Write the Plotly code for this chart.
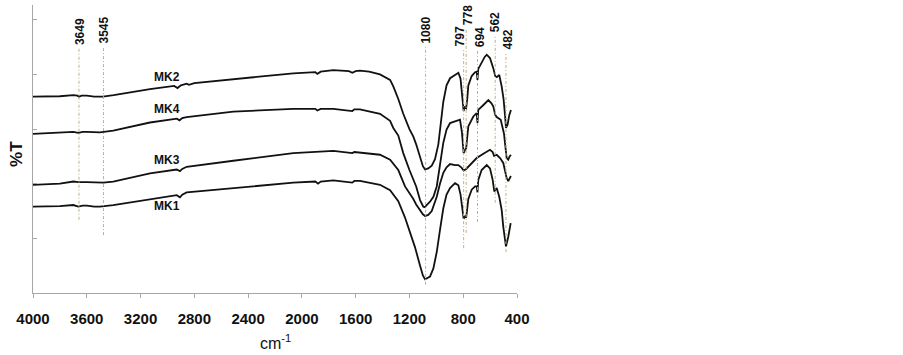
import plotly.graph_objects as go

# ---- data (wavenumber cm-1, relative %T in arbitrary units) ----
mk2_w = [4000, 3800, 3700, 3670, 3658, 3640, 3600, 3545, 3480, 3400, 3130, 2950, 2925, 2900, 2857, 2840, 2800,
         2510, 2064, 1900, 1885, 1860, 1766, 1650, 1625, 1600, 1568, 1500, 1419, 1344, 1320, 1283, 1246,
         1200, 1171, 1150, 1121, 1100, 1084, 1060, 1034, 1010, 985, 973, 948, 924, 898, 861, 836, 820, 808,
         797, 790, 778, 770, 762, 737, 712, 700, 694, 688, 663, 640, 625, 601, 576, 562, 550, 532, 514, 500,
         489, 482, 470, 458, 445]
mk2_v = [3.595, 3.60, 3.62, 3.61, 3.59, 3.61, 3.61, 3.595, 3.595, 3.62, 3.73, 3.79, 3.75, 3.80, 3.83, 3.81, 3.84,
         3.91, 4.02, 4.04, 4.01, 4.05, 4.08, 4.06, 4.03, 4.06, 4.07, 4.05, 4.00, 3.90, 3.78, 3.55, 3.28,
         3.00, 2.86, 2.72, 2.48, 2.32, 2.26, 2.28, 2.33, 2.45, 2.72, 3.00, 3.50, 3.80, 3.93, 3.99, 4.03, 3.92, 3.62,
         3.33, 3.40, 3.38, 3.55, 3.80, 3.97, 4.04, 4.05, 3.90, 4.10, 4.22, 4.32, 4.36, 4.30, 4.11, 3.97, 3.95, 3.99, 3.78, 3.55,
         3.25, 3.02, 3.08, 3.25, 3.35]

mk4_w = [4000, 3800, 3700, 3663, 3630, 3600, 3545, 3502, 3403, 3130, 2930, 2910, 2890, 2857, 2510, 2064, 1900,
         1885, 1860, 1766, 1625, 1610, 1568, 1419, 1344, 1320, 1283, 1246, 1200, 1171, 1150, 1121, 1097, 1084,
         1072, 1047, 1022, 997, 973, 948, 924, 898, 861, 824, 810, 797, 786, 778, 770, 762, 725, 700, 694, 688,
         650, 613, 590, 576, 562, 551, 521, 497, 477, 465, 455, 445]
mk4_v = [2.91, 2.93, 2.95, 2.93, 2.95, 2.95, 2.94, 2.94, 2.97, 3.12, 3.19, 3.16, 3.20, 3.22, 3.32, 3.37, 3.37,
         3.34, 3.37, 3.37, 3.33, 3.36, 3.36, 3.28, 3.15, 3.02, 2.88, 2.56, 2.25, 2.07, 1.95, 1.70, 1.58, 1.57,
         1.61, 1.67, 1.76, 1.95, 2.31, 2.75, 2.99, 3.11, 3.14, 3.17, 2.95, 2.56, 2.62, 2.65, 2.85, 3.05, 3.23, 3.29, 3.11, 3.35,
         3.44, 3.53, 3.47, 3.41, 3.26, 3.22, 3.17, 2.92, 2.47, 2.44, 2.50, 2.53]

mk3_w = [4000, 3800, 3700, 3663, 3600, 3545, 3477, 3403, 3130, 2931, 2907, 2890, 2857, 2510, 2064, 1766, 1625,
         1610, 1568, 1419, 1344, 1283, 1233, 1190, 1171, 1150, 1121, 1100, 1084, 1060, 1034, 997, 973, 948,
         924, 898, 861, 836, 815, 797, 778, 749, 700, 650, 625, 601, 581, 571, 551, 526, 502, 489, 477, 465, 452, 445]
mk3_v = [1.98, 2.00, 2.04, 2.03, 2.03, 2.02, 2.02, 2.04, 2.19, 2.26, 2.23, 2.27, 2.31, 2.42, 2.56, 2.60, 2.56,
         2.58, 2.57, 2.53, 2.44, 2.25, 1.95, 1.80, 1.72, 1.62, 1.52, 1.44, 1.41, 1.43, 1.50, 1.76, 2.00, 2.20,
         2.30, 2.36, 2.34, 2.34, 2.30, 2.24, 2.27, 2.34, 2.47, 2.55, 2.58, 2.62, 2.58, 2.51, 2.53, 2.47, 2.38, 2.25, 2.10, 2.05, 2.10, 2.14]

mk1_w = [4000, 3800, 3700, 3663, 3630, 3600, 3545, 3502, 3403, 3130, 2931, 2907, 2890, 2857, 2510, 2064, 1900,
         1880, 1860, 1766, 1625, 1610, 1568, 1419, 1344, 1283, 1233, 1196, 1171, 1159, 1121, 1100, 1084, 1060,
         1047, 1022, 997, 973, 948, 924, 898, 861, 836, 820, 808, 797, 786, 778, 770, 762, 737, 712, 700, 694,
         688, 663, 625, 601, 581, 569, 562, 551, 532, 514, 502, 482, 465, 447]
mk1_v = [1.58, 1.59, 1.61, 1.58, 1.60, 1.60, 1.58, 1.58, 1.61, 1.72, 1.79, 1.75, 1.80, 1.84, 1.92, 2.02, 2.04,
         2.00, 2.04, 2.06, 2.02, 2.05, 2.05, 1.98, 1.88, 1.68, 1.38, 1.10, 0.90, 0.84, 0.50, 0.32, 0.25, 0.28,
         0.30, 0.45, 0.75, 1.15, 1.55, 1.80, 1.92, 2.01, 1.97, 1.80, 1.55, 1.36, 1.40, 1.38, 1.55, 1.72, 1.89, 1.95, 1.95, 1.84,
         2.07, 2.25, 2.34, 2.28, 2.07, 1.86, 1.88, 1.92, 1.76, 1.52, 1.21, 0.85, 1.03, 1.28]

series_names = ["MK2", "MK4", "MK3", "MK1"]
label_w = [3003, 3003, 3003, 3003]
label_v = [3.96, 3.37, 2.44, 1.59]

# peak labels and where their guide lines are drawn in the picture
peak_labels = ["3649", "3545", "1080", "797", "778", "694", "562", "482"]
peak_pos = [3658, 3476, 1080, 797, 778, 694, 562, 482]
peak_top = [4.49, 4.51, 4.51, 4.45, 4.85, 4.45, 4.72, 4.40]
peak_bottom = [1.34, 1.06, 0.15, 0.82, 1.10, 1.30, 1.65, 0.75]
peak_xshift = [1, 1, 0, -4, 2, 2, 0, 2]

x_ticks = [4000, 3600, 3200, 2800, 2400, 2000, 1600, 1200, 800, 400]

fig = go.Figure()
for w, v in [(mk2_w, mk2_v), (mk4_w, mk4_v), (mk3_w, mk3_v), (mk1_w, mk1_v)]:
    fig.add_trace(go.Scatter(x=w, y=v, mode="lines", line=dict(color="#111111", width=1.8),
                             showlegend=False, hoverinfo="skip"))

guide_color = "#BFB083"
for lab, pw, top, bot, xs in zip(peak_labels, peak_pos, peak_top, peak_bottom, peak_xshift):
    fig.add_trace(go.Scatter(x=[pw, pw], y=[bot, top], mode="lines",
                             line=dict(color=guide_color, width=1, dash="3px,2px,1px,2px"),
                             showlegend=False, hoverinfo="skip"))
    fig.add_annotation(x=pw, y=top, text=lab, textangle=-90, showarrow=False,
                       xanchor="center", yanchor="bottom", xshift=xs, yshift=1,
                       font=dict(family="Liberation Sans", size=12, color="#111111", weight="bold"))

for n, lw, lv in zip(series_names, label_w, label_v):
    fig.add_annotation(x=lw, y=lv, text=n, showarrow=False, xanchor="center", yanchor="middle",
                       font=dict(family="Liberation Sans", size=12, color="#111111", weight="bold"))

fig.add_annotation(xref="paper", yref="paper", x=-0.033, y=0.483, text="%T", textangle=-90,
                   showarrow=False, xanchor="center", yanchor="middle",
                   font=dict(family="Liberation Sans", size=17, color="#111111", weight="bold"))
fig.add_annotation(xref="paper", yref="paper", x=0.502, y=-0.170, text="cm<sup>-1</sup>",
                   showarrow=False, xanchor="center", yanchor="middle",
                   font=dict(family="Liberation Sans", size=16, color="#111111"))

fig.update_layout(
    width=903, height=355, margin=dict(l=33, r=386, t=5, b=62),
    paper_bgcolor="white", plot_bgcolor="white",
    xaxis=dict(range=[4000, 400], tickvals=x_ticks, ticktext=[str(t) for t in x_ticks],
               showgrid=False, zeroline=False, showline=True, linecolor="#A6A6A6", linewidth=1,
               ticks="outside", ticklen=4, tickcolor="#A6A6A6", ticklabelstandoff=8,
               tickfont=dict(family="Liberation Sans", size=15, color="#111111", weight="bold")),
    yaxis=dict(range=[0, 5.27], dtick=1, tick0=0, showticklabels=False, showgrid=False, zeroline=False,
               showline=True, linecolor="#A6A6A6", linewidth=1, ticks="inside", ticklen=4,
               tickcolor="#A6A6A6"),
)

fig.write_html("out.html", config={"displayModeBar": False},
               post_script="document.body.style.margin='0';")
